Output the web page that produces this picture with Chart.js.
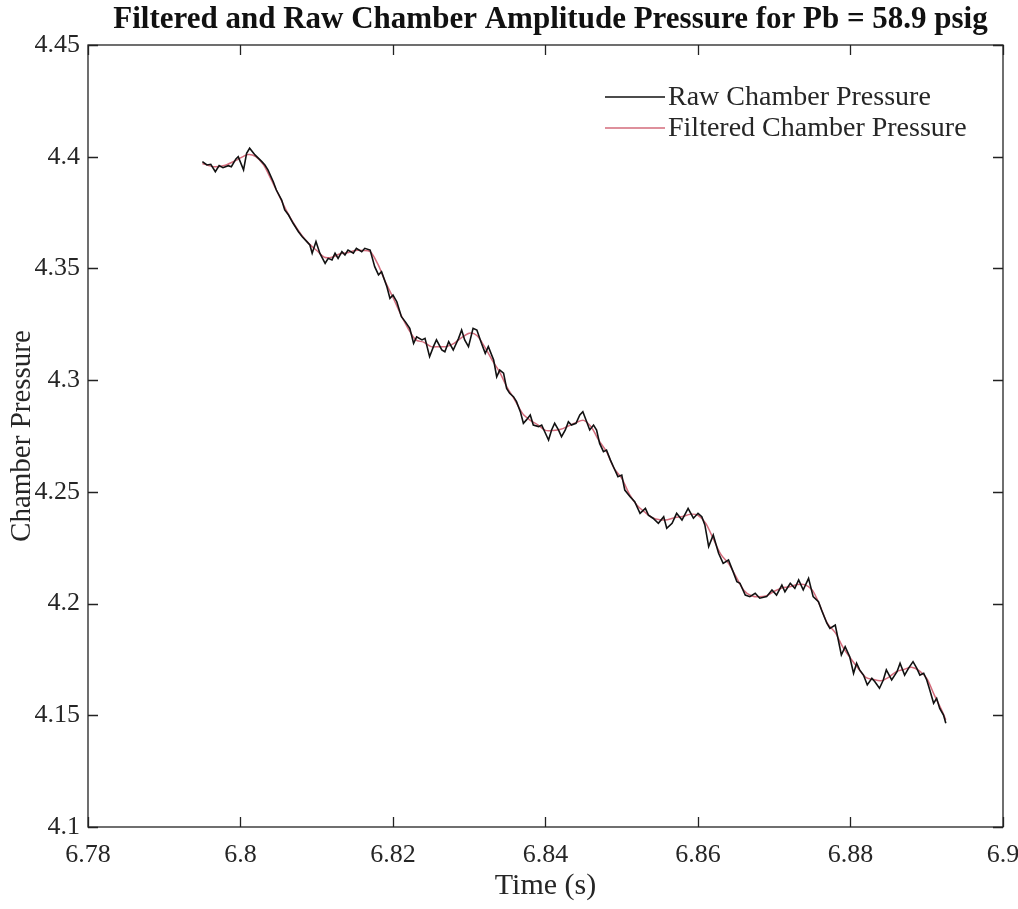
<!DOCTYPE html>
<html>
<head>
<meta charset="utf-8">
<script src="https://cdn.jsdelivr.net/npm/chart.js@4.4.0/dist/chart.umd.min.js"></script>
<style>
  html, body { margin: 0; padding: 0; background: #fff; }
</style>
</head>
<body>
<canvas id="chart" width="1018" height="909"></canvas>
<script>
// raw chamber pressure
const rawTime = [
  6.7950, 6.7956, 6.7961, 6.7967, 6.7972, 6.7977, 6.7984, 6.7988, 6.7994, 6.7997,
  6.8004, 6.8008, 6.8012, 6.8019, 6.8028, 6.8032, 6.8036, 6.8043, 6.8047, 6.8054,
  6.8058, 6.8063, 6.8069, 6.8076, 6.8081, 6.8087, 6.8091, 6.8094, 6.8099, 6.8104,
  6.8111, 6.8115, 6.8120, 6.8124, 6.8128, 6.8133, 6.8137, 6.8141, 6.8148, 6.8152,
  6.8159, 6.8163, 6.8170, 6.8176, 6.8181, 6.8185, 6.8192, 6.8196, 6.8200, 6.8205,
  6.8211, 6.8216, 6.8222, 6.8227, 6.8231, 6.8238, 6.8242, 6.8248, 6.8253, 6.8257,
  6.8264, 6.8268, 6.8273, 6.8279, 6.8286, 6.8290, 6.8294, 6.8299, 6.8305, 6.8310,
  6.8316, 6.8321, 6.8325, 6.8332, 6.8336, 6.8340, 6.8345, 6.8349, 6.8353, 6.8358,
  6.8362, 6.8367, 6.8371, 6.8375, 6.8380, 6.8384, 6.8391, 6.8395, 6.8399, 6.8404,
  6.8408, 6.8412, 6.8417, 6.8421, 6.8426, 6.8430, 6.8434, 6.8440, 6.8445, 6.8449,
  6.8454, 6.8458, 6.8463, 6.8467, 6.8471, 6.8476, 6.8480, 6.8485, 6.8491, 6.8495,
  6.8500, 6.8504, 6.8511, 6.8517, 6.8524, 6.8531, 6.8535, 6.8541, 6.8548, 6.8555,
  6.8559, 6.8566, 6.8572, 6.8579, 6.8587, 6.8594, 6.8600, 6.8605, 6.8609, 6.8614,
  6.8620, 6.8627, 6.8633, 6.8640, 6.8646, 6.8651, 6.8655, 6.8662, 6.8668, 6.8675,
  6.8681, 6.8690, 6.8697, 6.8703, 6.8710, 6.8714, 6.8721, 6.8727, 6.8732, 6.8738,
  6.8745, 6.8751, 6.8758, 6.8762, 6.8769, 6.8773, 6.8780, 6.8784, 6.8788, 6.8793,
  6.8799, 6.8804, 6.8808, 6.8812, 6.8817, 6.8822, 6.8828, 6.8832, 6.8838, 6.8843,
  6.8847, 6.8854, 6.8861, 6.8865, 6.8871, 6.8876, 6.8882, 6.8887, 6.8891, 6.8896,
  6.8900, 6.8904, 6.8909, 6.8913, 6.8917, 6.8922, 6.8925
];
const rawPressure = [
  4.3978, 4.3963, 4.3966, 4.3933, 4.3960, 4.3951, 4.3960, 4.3955, 4.3990, 4.4000,
  4.3941, 4.4015, 4.4038, 4.4008, 4.3978, 4.3963, 4.3941, 4.3888, 4.3851, 4.3806,
  4.3762, 4.3739, 4.3702, 4.3664, 4.3642, 4.3620, 4.3605, 4.3568, 4.3620, 4.3568,
  4.3523, 4.3545, 4.3538, 4.3568, 4.3545, 4.3575, 4.3560, 4.3582, 4.3568, 4.3590,
  4.3575, 4.3590, 4.3582, 4.3508, 4.3471, 4.3485, 4.3418, 4.3366, 4.3381, 4.3351,
  4.3284, 4.3262, 4.3232, 4.3165, 4.3194, 4.3180, 4.3187, 4.3105, 4.3150, 4.3180,
  4.3135, 4.3127, 4.3172, 4.3135, 4.3187, 4.3224, 4.3180, 4.3150, 4.3232, 4.3224,
  4.3165, 4.3120, 4.3150, 4.3090, 4.3015, 4.3045, 4.3031, 4.2963, 4.2941, 4.2926,
  4.2904, 4.2859, 4.2807, 4.2822, 4.2844, 4.2799, 4.2792, 4.2799, 4.2769, 4.2732,
  4.2777, 4.2807, 4.2777, 4.2747, 4.2777, 4.2814, 4.2799, 4.2807, 4.2844, 4.2859,
  4.2814, 4.2777, 4.2799, 4.2777, 4.2717, 4.2680, 4.2687, 4.2643, 4.2598, 4.2568,
  4.2575, 4.2508, 4.2478, 4.2456, 4.2404, 4.2426, 4.2396, 4.2382, 4.2359, 4.2389,
  4.2337, 4.2359, 4.2404, 4.2374, 4.2426, 4.2382, 4.2404, 4.2389, 4.2352, 4.2255,
  4.2307, 4.2225, 4.2180, 4.2195, 4.2143, 4.2098, 4.2091, 4.2038, 4.2031, 4.2046,
  4.2024, 4.2031, 4.2061, 4.2038, 4.2083, 4.2053, 4.2091, 4.2068, 4.2106, 4.2061,
  4.2113, 4.2031, 4.2008, 4.1971, 4.1912, 4.1889, 4.1904, 4.1837, 4.1770, 4.1807,
  4.1762, 4.1688, 4.1733, 4.1703, 4.1680, 4.1636, 4.1666, 4.1650, 4.1621, 4.1658,
  4.1703, 4.1658, 4.1695, 4.1733, 4.1680, 4.1710, 4.1740, 4.1710, 4.1680, 4.1688,
  4.1658, 4.1613, 4.1554, 4.1576, 4.1531, 4.1501, 4.1464
];

// filtered chamber pressure
const filtTime = [
  6.7950, 6.7965, 6.7980, 6.7995, 6.8010, 6.8020, 6.8030, 6.8040, 6.8050, 6.8060,
  6.8070, 6.8080, 6.8090, 6.8100, 6.8110, 6.8120, 6.8130, 6.8140, 6.8150, 6.8160,
  6.8170, 6.8180, 6.8190, 6.8200, 6.8210, 6.8220, 6.8230, 6.8240, 6.8250, 6.8260,
  6.8270, 6.8280, 6.8290, 6.8300, 6.8310, 6.8320, 6.8330, 6.8340, 6.8350, 6.8360,
  6.8370, 6.8380, 6.8390, 6.8400, 6.8410, 6.8420, 6.8430, 6.8440, 6.8450, 6.8460,
  6.8470, 6.8480, 6.8490, 6.8500, 6.8510, 6.8520, 6.8530, 6.8540, 6.8550, 6.8560,
  6.8570, 6.8580, 6.8590, 6.8600, 6.8610, 6.8620, 6.8630, 6.8640, 6.8650, 6.8660,
  6.8670, 6.8680, 6.8690, 6.8700, 6.8710, 6.8720, 6.8730, 6.8740, 6.8750, 6.8760,
  6.8770, 6.8780, 6.8790, 6.8800, 6.8810, 6.8820, 6.8830, 6.8840, 6.8850, 6.8860,
  6.8870, 6.8880, 6.8890, 6.8900, 6.8910, 6.8920, 6.8925
];
const filtPressure = [
  4.3970, 4.3955, 4.3962, 4.3985, 4.4010, 4.4000, 4.3965, 4.3900, 4.3830, 4.3760,
  4.3700, 4.3650, 4.3610, 4.3580, 4.3550, 4.3550, 4.3565, 4.3570, 4.3580, 4.3580,
  4.3575, 4.3520, 4.3440, 4.3370, 4.3295, 4.3230, 4.3180, 4.3170, 4.3150, 4.3150,
  4.3150, 4.3165, 4.3190, 4.3210, 4.3200, 4.3150, 4.3090, 4.3035, 4.2965, 4.2910,
  4.2850, 4.2820, 4.2800, 4.2775, 4.2775, 4.2780, 4.2795, 4.2810, 4.2820, 4.2790,
  4.2730, 4.2680, 4.2605, 4.2560, 4.2490, 4.2440, 4.2410, 4.2385, 4.2375, 4.2375,
  4.2385, 4.2390, 4.2400, 4.2395, 4.2360, 4.2290, 4.2220, 4.2180, 4.2120, 4.2060,
  4.2035, 4.2030, 4.2035, 4.2055, 4.2070, 4.2075, 4.2085, 4.2085, 4.2060, 4.1990,
  4.1910, 4.1870, 4.1805, 4.1755, 4.1710, 4.1670, 4.1660, 4.1655, 4.1670, 4.1695,
  4.1705, 4.1715, 4.1700, 4.1665, 4.1590, 4.1520, 4.1480
];

const xTicks = [6.78, 6.8, 6.82, 6.84, 6.86, 6.88, 6.9];
const xTickLabels = ['6.78', '6.8', '6.82', '6.84', '6.86', '6.88', '6.9'];
const yTicks = [4.1, 4.15, 4.2, 4.25, 4.3, 4.35, 4.4, 4.45];
const yTickLabels = ['4.1', '4.15', '4.2', '4.25', '4.3', '4.35', '4.4', '4.45'];

const titleText = 'Filtered and Raw Chamber Amplitude Pressure for Pb = 58.9 psig';

const serif = "'Liberation Serif', 'Times New Roman', serif";
const textColor = '#262626';
const rawColor = '#111111';
const filtColor = 'rgba(200, 70, 90, 0.8)';

function pairs(xs, ys) {
  return xs.map((x, i) => ({ x: x, y: ys[i] }));
}

// box round the plot with inward ticks on all four sides, title centred over the plot
const framePlugin = {
  id: 'frame',
  afterDatasetsDraw(chart) {
    const ctx = chart.ctx;
    const a = chart.chartArea;
    const xs = chart.scales.x, ys = chart.scales.y;
    const len = 10;
    ctx.save();
    ctx.strokeStyle = '#222';
    ctx.lineWidth = 1.3;
    ctx.strokeRect(a.left, a.top, a.right - a.left, a.bottom - a.top);
    ctx.beginPath();
    xTicks.forEach(v => {
      const px = Math.round(xs.getPixelForValue(v)) + 0.5;
      ctx.moveTo(px, a.bottom); ctx.lineTo(px, a.bottom - len);
      ctx.moveTo(px, a.top); ctx.lineTo(px, a.top + len);
    });
    yTicks.forEach(v => {
      const py = Math.round(ys.getPixelForValue(v)) + 0.5;
      ctx.moveTo(a.left, py); ctx.lineTo(a.left + len, py);
      ctx.moveTo(a.right, py); ctx.lineTo(a.right - len, py);
    });
    ctx.stroke();

    ctx.fillStyle = '#111';
    ctx.font = 'bold 31px ' + serif;
    ctx.textAlign = 'center';
    ctx.textBaseline = 'middle';
    ctx.fillText(titleText, (a.left + a.right) / 2 + 5, 20);
    ctx.restore();
  }
};

// legend in the upper right of the plot, no box
const legendPlugin = {
  id: 'innerLegend',
  afterDraw(chart) {
    const ctx = chart.ctx;
    const a = chart.chartArea;
    const x0 = 605, y0 = a.top + 52, gap = 31;
    ctx.save();
    ctx.font = '28px ' + serif;
    ctx.textBaseline = 'middle';
    ctx.fillStyle = textColor;
    chart.data.datasets.forEach((ds, i) => {
      const y = y0 + i * gap;
      ctx.strokeStyle = ds.borderColor;
      ctx.lineWidth = 1.5;
      ctx.beginPath();
      ctx.moveTo(x0, y); ctx.lineTo(x0 + 60, y);
      ctx.stroke();
      ctx.fillText(ds.label, x0 + 63, y + 1);
    });
    ctx.restore();
  }
};

new Chart(document.getElementById('chart'), {
  type: 'line',
  data: {
    datasets: [
      {
        label: 'Raw Chamber Pressure',
        data: pairs(rawTime, rawPressure),
        borderColor: rawColor,
        borderWidth: 1.6,
        pointRadius: 0,
        tension: 0
      },
      {
        label: 'Filtered Chamber Pressure',
        data: pairs(filtTime, filtPressure),
        borderColor: filtColor,
        borderWidth: 1.5,
        pointRadius: 0,
        tension: 0.3
      }
    ]
  },
  options: {
    responsive: false,
    animation: false,
    layout: { padding: { top: 45, right: 15, bottom: 0, left: 0 } },
    plugins: {
      legend: { display: false },
      tooltip: { enabled: false },
      title: { display: false }
    },
    scales: {
      x: {
        type: 'linear',
        min: 6.78,
        max: 6.9,
        afterBuildTicks: s => { s.ticks = xTicks.map(v => ({ value: v })); },
        afterFit: s => { s.height = 82; s.paddingLeft = 0; s.paddingRight = 0; },
        grid: { display: false, drawTicks: false },
        border: { display: false },
        ticks: {
          color: textColor,
          font: { family: serif, size: 26 },
          padding: 13,
          maxRotation: 0,
          callback: (v, i) => xTickLabels[i]
        },
        title: {
          display: true,
          text: 'Time (s)',
          color: textColor,
          font: { family: serif, size: 30, lineHeight: 1.2 },
          padding: { top: 0, bottom: 5 }
        }
      },
      y: {
        type: 'linear',
        min: 4.1,
        max: 4.45,
        afterBuildTicks: s => { s.ticks = yTicks.map(v => ({ value: v })); },
        afterFit: s => { s.width = 88; s.paddingTop = 0; s.paddingBottom = 0; },
        grid: { display: false, drawTicks: false },
        border: { display: false },
        ticks: {
          color: textColor,
          font: { family: serif, size: 26 },
          padding: 8,
          callback: (v, i) => yTickLabels[i]
        },
        title: {
          display: true,
          text: 'Chamber Pressure',
          color: textColor,
          font: { family: serif, size: 29, lineHeight: 1.2 },
          padding: { top: 5, bottom: 0 }
        }
      }
    }
  },
  plugins: [framePlugin, legendPlugin]
});
</script>
</body>
</html>
